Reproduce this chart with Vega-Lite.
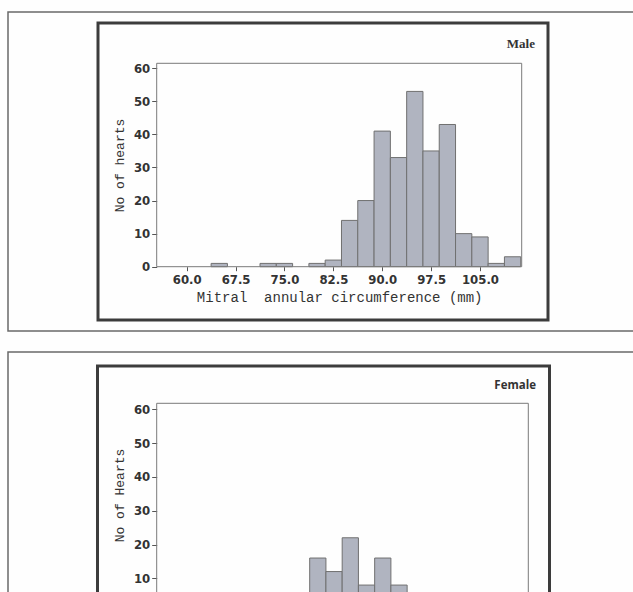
{
  "$schema": "https://vega.github.io/schema/vega-lite/v6.json",
  "width": 633,
  "height": 592,
  "padding": 0,
  "autosize": {"type": "none"},
  "background": "#fefefe",
  "config": {"view": {"stroke": null}, "axis": {"grid": false}},
  "datasets": {
    "male": [
      {"lo": 63.75, "hi": 66.25, "n": 1},
      {"lo": 71.25, "hi": 73.75, "n": 1},
      {"lo": 73.75, "hi": 76.25, "n": 1},
      {"lo": 78.75, "hi": 81.25, "n": 1},
      {"lo": 81.25, "hi": 83.75, "n": 2},
      {"lo": 83.75, "hi": 86.25, "n": 14},
      {"lo": 86.25, "hi": 88.75, "n": 20},
      {"lo": 88.75, "hi": 91.25, "n": 41},
      {"lo": 91.25, "hi": 93.75, "n": 33},
      {"lo": 93.75, "hi": 96.25, "n": 53},
      {"lo": 96.25, "hi": 98.75, "n": 35},
      {"lo": 98.75, "hi": 101.25, "n": 43},
      {"lo": 101.25, "hi": 103.75, "n": 10},
      {"lo": 103.75, "hi": 106.25, "n": 9},
      {"lo": 106.25, "hi": 108.75, "n": 1},
      {"lo": 108.75, "hi": 111.25, "n": 3}
    ],
    "female": [
      {"lo": 78.75, "hi": 81.25, "n": 16},
      {"lo": 81.25, "hi": 83.75, "n": 12},
      {"lo": 83.75, "hi": 86.25, "n": 22},
      {"lo": 86.25, "hi": 88.75, "n": 8},
      {"lo": 88.75, "hi": 91.25, "n": 16},
      {"lo": 91.25, "hi": 93.75, "n": 8}
    ],
    "one": [{}]
  },
  "layer": [
    {
      "data": {"name": "one"},
      "mark": {"type": "rect", "filled": false, "stroke": "#6a6a6a", "strokeWidth": 1.5},
      "encoding": {
        "x": {"datum": 0, "type": "quantitative", "scale": {"domain": [0, 1], "range": [8, 660], "nice": false, "zero": false}, "axis": null},
        "x2": {"datum": 1},
        "y": {"datum": 0, "type": "quantitative", "scale": {"domain": [0, 1], "range": [12, 331], "nice": false, "zero": false}, "axis": null},
        "y2": {"datum": 1}
      }
    },
    {
      "data": {"name": "one"},
      "mark": {"type": "rect", "filled": false, "stroke": "#3c3c3c", "strokeWidth": 3},
      "encoding": {
        "x": {"datum": 0, "type": "quantitative", "scale": {"domain": [0, 1], "range": [98, 548], "nice": false, "zero": false}, "axis": null},
        "x2": {"datum": 1},
        "y": {"datum": 0, "type": "quantitative", "scale": {"domain": [0, 1], "range": [23, 320], "nice": false, "zero": false}, "axis": null},
        "y2": {"datum": 1}
      }
    },
    {
      "data": {"name": "one"},
      "mark": {"type": "text", "text": "Male", "align": "right", "baseline": "middle", "dx": -13, "dy": 21, "font": "Liberation Serif", "fontWeight": "bold", "fontSize": 13, "color": "#333333"},
      "encoding": {
        "x": {"datum": 1, "type": "quantitative", "scale": {"domain": [0, 1], "range": [98, 548], "nice": false, "zero": false}, "axis": null},
        "y": {"datum": 0, "type": "quantitative", "scale": {"domain": [0, 1], "range": [23, 320], "nice": false, "zero": false}, "axis": null}
      }
    },
    {
      "data": {"name": "male"},
      "mark": {"type": "rect", "fill": "#b0b4c0", "stroke": "#707070", "strokeWidth": 1},
      "encoding": {
        "x": {
          "field": "lo", "type": "quantitative",
          "scale": {"domain": [55.4, 111.4], "range": [156.7, 521.7], "nice": false, "zero": false},
          "axis": {
            "orient": "bottom", "offset": -325.3, "values": [60, 67.5, 75, 82.5, 90, 97.5, 105], "format": ".1f",
            "title": "Mitral \u00a0annular circumference (mm)", "domain": false, "tickSize": 4, "tickColor": "#555555",
            "labelFont": "Liberation Sans Narrow, DejaVu Sans Condensed, sans-serif", "labelFontWeight": "bold", "labelFontSize": 13, "labelColor": "#333333", "labelPadding": 3,
            "titleFont": "Liberation Mono", "titleFontSize": 14, "titleFontWeight": "normal", "titleColor": "#333333", "titlePadding": 4
          }
        },
        "x2": {"field": "hi"},
        "y": {
          "field": "n", "type": "quantitative",
          "scale": {"domain": [0, 61.5], "range": [266.7, 63.3], "nice": false, "zero": false},
          "axis": {
            "orient": "left", "offset": -156.7, "values": [0, 10, 20, 30, 40, 50, 60],
            "title": "No of hearts", "domain": false, "tickSize": 5, "tickColor": "#555555",
            "labelFont": "Liberation Sans Narrow, DejaVu Sans Condensed, sans-serif", "labelFontWeight": "bold", "labelFontSize": 13, "labelColor": "#333333", "labelPadding": 2,
            "titleFont": "Liberation Mono", "titleFontSize": 13, "titleFontWeight": "normal", "titleColor": "#333333", "titlePadding": 7
          }
        },
        "y2": {"datum": 0}
      }
    },
    {
      "data": {"name": "one"},
      "mark": {"type": "rect", "filled": false, "stroke": "#7a7a7a", "strokeWidth": 1},
      "encoding": {
        "x": {"datum": 55.4, "type": "quantitative", "scale": {"domain": [55.4, 111.4], "range": [156.7, 521.7], "nice": false, "zero": false}, "axis": null},
        "x2": {"datum": 111.4},
        "y": {"datum": 0, "type": "quantitative", "scale": {"domain": [0, 61.5], "range": [266.7, 63.3], "nice": false, "zero": false}, "axis": null},
        "y2": {"datum": 61.5}
      }
    },
    {
      "data": {"name": "one"},
      "mark": {"type": "rect", "filled": false, "stroke": "#6a6a6a", "strokeWidth": 1.5},
      "encoding": {
        "x": {"datum": 0, "type": "quantitative", "scale": {"domain": [0, 1], "range": [8, 660], "nice": false, "zero": false}, "axis": null},
        "x2": {"datum": 1},
        "y": {"datum": 0, "type": "quantitative", "scale": {"domain": [0, 1], "range": [352, 660], "nice": false, "zero": false}, "axis": null},
        "y2": {"datum": 1}
      }
    },
    {
      "data": {"name": "one"},
      "mark": {"type": "rect", "filled": false, "stroke": "#3c3c3c", "strokeWidth": 3},
      "encoding": {
        "x": {"datum": 0, "type": "quantitative", "scale": {"domain": [0, 1], "range": [97.5, 549.5], "nice": false, "zero": false}, "axis": null},
        "x2": {"datum": 1},
        "y": {"datum": 0, "type": "quantitative", "scale": {"domain": [0, 1], "range": [366, 660], "nice": false, "zero": false}, "axis": null},
        "y2": {"datum": 1}
      }
    },
    {
      "data": {"name": "one"},
      "mark": {"type": "text", "text": "Female", "align": "right", "baseline": "middle", "dx": -13.5, "dy": 20, "font": "Open Sans", "fontWeight": "bold", "fontSize": 11.5, "color": "#333333"},
      "encoding": {
        "x": {"datum": 1, "type": "quantitative", "scale": {"domain": [0, 1], "range": [97.5, 549.5], "nice": false, "zero": false}, "axis": null},
        "y": {"datum": 0, "type": "quantitative", "scale": {"domain": [0, 1], "range": [366, 660], "nice": false, "zero": false}, "axis": null}
      }
    },
    {
      "data": {"name": "female"},
      "mark": {"type": "rect", "fill": "#b0b4c0", "stroke": "#707070", "strokeWidth": 1},
      "encoding": {
        "x": {
          "field": "lo", "type": "quantitative",
          "scale": {"domain": [55.2, 112.4], "range": [156.7, 528.3], "nice": false, "zero": false},
          "axis": null
        },
        "x2": {"field": "hi"},
        "y": {
          "field": "n", "type": "quantitative",
          "scale": {"domain": [0, 61.8], "range": [612.1, 403.3], "nice": false, "zero": false},
          "axis": {
            "orient": "left", "offset": -156.7, "values": [10, 20, 30, 40, 50, 60],
            "title": "No of Hearts", "titleY": 495, "domain": false, "tickSize": 5, "tickColor": "#555555",
            "labelFont": "Liberation Sans Narrow, DejaVu Sans Condensed, sans-serif", "labelFontWeight": "bold", "labelFontSize": 13, "labelColor": "#333333", "labelPadding": 2,
            "titleFont": "Liberation Mono", "titleFontSize": 13, "titleFontWeight": "normal", "titleColor": "#333333", "titlePadding": 7
          }
        },
        "y2": {"datum": 0}
      }
    },
    {
      "data": {"name": "one"},
      "mark": {"type": "rect", "filled": false, "stroke": "#7a7a7a", "strokeWidth": 1},
      "encoding": {
        "x": {"datum": 55.2, "type": "quantitative", "scale": {"domain": [55.2, 112.4], "range": [156.7, 528.3], "nice": false, "zero": false}, "axis": null},
        "x2": {"datum": 112.4},
        "y": {"datum": 0, "type": "quantitative", "scale": {"domain": [0, 61.8], "range": [612.1, 403.3], "nice": false, "zero": false}, "axis": null},
        "y2": {"datum": 61.8}
      }
    }
  ],
  "resolve": {
    "scale": {"x": "independent", "y": "independent"}
  }
}
